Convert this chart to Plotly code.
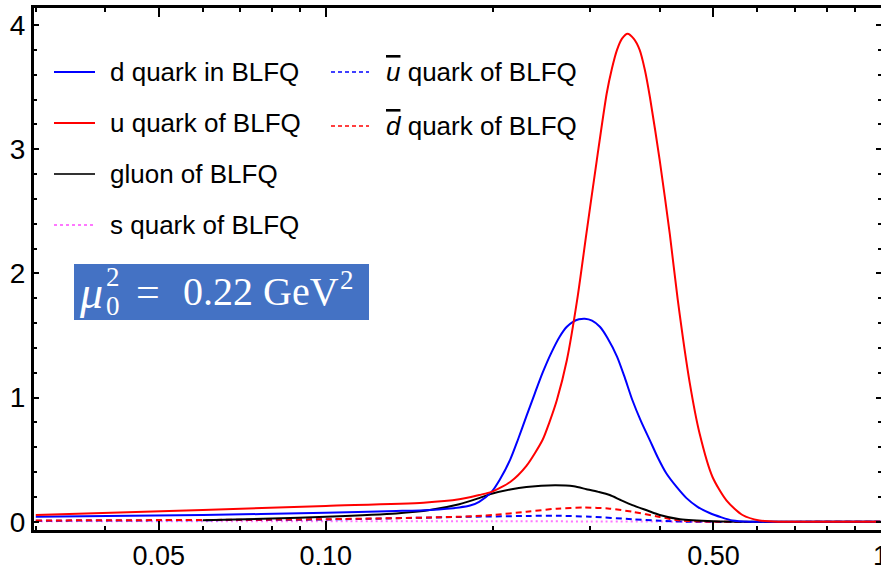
import plotly.graph_objects as go

# ---------------- data ----------------
u_x = [0.03, 0.06, 0.10, 0.15, 0.174, 0.189, 0.199, 0.215, 0.230, 0.246, 0.253, 0.261, 0.272,
       0.284, 0.295, 0.308, 0.321, 0.328, 0.335, 0.342, 0.350, 0.359, 0.368, 0.376, 0.384,
       0.400, 0.417, 0.431, 0.453, 0.472, 0.498, 0.528, 0.564, 0.605, 0.658, 0.80, 1.0]
u_y = [0.054, 0.094, 0.127, 0.153, 0.18, 0.215, 0.24, 0.32, 0.45, 0.66, 0.80, 0.98, 1.30,
       1.79, 2.32, 2.91, 3.45, 3.65, 3.80, 3.89, 3.93, 3.89, 3.80, 3.64, 3.42,
       2.91, 2.32, 1.79, 1.12, 0.71, 0.36, 0.17, 0.054, 0.01, 0.0, 0.0, 0.0]

d_x = [0.03, 0.06, 0.10, 0.134, 0.154, 0.174, 0.182, 0.189, 0.199, 0.206, 0.215, 0.222, 0.230,
       0.238, 0.246, 0.255, 0.264, 0.272, 0.279, 0.286, 0.293, 0.302, 0.312, 0.322, 0.335,
       0.346, 0.357, 0.370, 0.384, 0.397, 0.411, 0.429, 0.447, 0.468, 0.492, 0.517, 0.541,
       0.58, 0.70, 1.0]
d_y = [0.04, 0.054, 0.072, 0.086, 0.095, 0.115, 0.13, 0.16, 0.24, 0.34, 0.50, 0.66, 0.85,
       1.03, 1.20, 1.36, 1.49, 1.57, 1.61, 1.63, 1.635, 1.62, 1.57, 1.48, 1.33,
       1.16, 0.98, 0.81, 0.655, 0.515, 0.39, 0.28, 0.19, 0.12, 0.07, 0.035, 0.01,
       0.0, 0.0, 0.0]

g_x = [0.06, 0.08, 0.10, 0.134, 0.154, 0.174, 0.189, 0.199, 0.215, 0.230, 0.259, 0.28, 0.295,
       0.31, 0.325, 0.34, 0.357, 0.38, 0.40, 0.435, 0.50, 0.60, 1.0]
g_y = [0.012, 0.025, 0.04, 0.067, 0.094, 0.14, 0.19, 0.225, 0.26, 0.28, 0.293, 0.285, 0.262,
       0.24, 0.215, 0.175, 0.134, 0.09, 0.054, 0.02, 0.004, 0.0, 0.0]

s_x = [0.03, 0.10, 0.20, 0.30, 0.50, 1.0]
s_y = [0.003, 0.004, 0.004, 0.002, 0.0, 0.0]

ubar_x = [0.03, 0.10, 0.174, 0.23, 0.261, 0.30, 0.357, 0.40, 0.45, 1.0]
ubar_y = [0.008, 0.018, 0.038, 0.046, 0.048, 0.04, 0.02, 0.008, 0.0, 0.0]

dbar_x = [0.03, 0.10, 0.174, 0.20, 0.23, 0.261, 0.293, 0.325, 0.357, 0.40, 0.435, 0.50, 1.0]
dbar_y = [0.01, 0.02, 0.04, 0.054, 0.08, 0.105, 0.114, 0.105, 0.08, 0.038, 0.01, 0.0, 0.0]

x_tick_vals = [0.05, 0.1, 0.5, 1]
x_tick_text = ["0.05", "0.10", "0.50", "1"]
x_minor_vals = [0.03, 0.04, 0.06, 0.07, 0.08, 0.09, 0.2, 0.3, 0.4, 0.6, 0.7, 0.8, 0.9]
y_tick_vals = [0, 1, 2, 3, 4]

legend_col1 = ["d quark in BLFQ", "u quark of BLFQ", "gluon of BLFQ", "s quark of BLFQ"]
legend_col2 = ['<i><span style="text-decoration:overline">u</span></i> quark of BLFQ',
               '<i><span style="text-decoration:overline">d</span></i> quark of BLFQ']

# ---------------- layout geometry ----------------
W, H = 881, 570
ML, MR, MT, MB = 34, 0, 8, 40
PW, PH = W - ML - MR, H - MT - MB


def px(xp):
    return (xp - ML) / PW


def py(yp):
    return (H - MB - yp) / PH


BLUE, RED, BLACK, PINK = "#0000FF", "#FF0000", "#000000", "#FF77FF"
SANS = "Liberation Sans, Arial, sans-serif"
SERIF = "Liberation Serif, Times New Roman, serif"

fig = go.Figure()
series = [
    (d_x, d_y, BLUE, "solid"),
    (u_x, u_y, RED, "solid"),
    (g_x, g_y, BLACK, "solid"),
    (s_x, s_y, PINK, "2px,3px"),
    (ubar_x, ubar_y, BLUE, "6px,4px"),
    (dbar_x, dbar_y, RED, "6px,4px"),
]
order = [3, 4, 5, 2, 0, 1]
for i in order:
    xs, ys, col, dash = series[i]
    fig.add_trace(go.Scatter(x=xs, y=ys, mode="lines",
                             line=dict(color=col, width=2, dash=dash, shape="spline", smoothing=0.7),
                             showlegend=False, hoverinfo="skip"))

# ---------------- manual legend ----------------
shapes = []
annotations = []
col1_rows = [72, 123, 174, 225]
col1_styles = [(BLUE, "solid"), (RED, "solid"), ("#333333", "solid"), (PINK, "dot")]
for label, yy, (c, dsh) in zip(legend_col1, col1_rows, col1_styles):
    shapes.append(dict(type="line", xref="paper", yref="paper", x0=px(54), x1=px(95),
                       y0=py(yy), y1=py(yy), line=dict(color=c, width=2, dash=dsh)))
    annotations.append(dict(xref="paper", yref="paper", x=px(108), y=py(yy), xanchor="left",
                            yanchor="middle", text=label, showarrow=False,
                            font=dict(family=SANS, size=26, color="#000000")))
col2_rows = [72, 126]
col2_styles = [BLUE, RED]
for label, yy, c in zip(legend_col2, col2_rows, col2_styles):
    shapes.append(dict(type="line", xref="paper", yref="paper", x0=px(331), x1=px(369),
                       y0=py(yy), y1=py(yy), line=dict(color=c, width=1.5, dash="4px,3px")))
    annotations.append(dict(xref="paper", yref="paper", x=px(384), y=py(yy), xanchor="left",
                            yanchor="middle", text=label, showarrow=False,
                            font=dict(family=SANS, size=26, color="#000000")))

# ---------------- formula box ----------------
shapes.append(dict(type="rect", xref="paper", yref="paper", x0=px(74), x1=px(369),
                   y0=py(320), y1=py(264), fillcolor="#4472C4", line=dict(width=0), layer="above"))
WHITE = "#FFFFFF"
annotations += [
    dict(xref="paper", yref="paper", x=px(77), y=py(293), xanchor="left", yanchor="middle",
         text="<i>μ</i>", showarrow=False, font=dict(family=SERIF, size=46, color=WHITE)),
    dict(xref="paper", yref="paper", x=px(104), y=py(277), xanchor="left", yanchor="middle",
         text="2", showarrow=False, font=dict(family=SERIF, size=27, color=WHITE)),
    dict(xref="paper", yref="paper", x=px(104), y=py(306), xanchor="left", yanchor="middle",
         text="0", showarrow=False, font=dict(family=SERIF, size=27, color=WHITE)),
    dict(xref="paper", yref="paper", x=px(134), y=py(292), xanchor="left", yanchor="middle",
         text="=", showarrow=False, font=dict(family=SERIF, size=42, color=WHITE)),
    dict(xref="paper", yref="paper", x=px(181), y=py(292), xanchor="left", yanchor="middle",
         text="0.22 GeV", showarrow=False, font=dict(family=SERIF, size=40, color=WHITE)),
    dict(xref="paper", yref="paper", x=px(338), y=py(280), xanchor="left", yanchor="middle",
         text="2", showarrow=False, font=dict(family=SERIF, size=27, color=WHITE)),
]

fig.update_layout(
    width=W, height=H,
    margin=dict(l=ML, r=MR, t=MT, b=MB, pad=0),
    paper_bgcolor="white", plot_bgcolor="white",
    shapes=shapes, annotations=annotations,
    showlegend=False,
)
fig.update_xaxes(
    type="log", range=[-(881 - ML) / 555.0, 0.001],
    tickmode="array", tickvals=x_tick_vals, ticktext=x_tick_text,
    ticks="inside", ticklen=9, tickwidth=2, tickcolor="black",
    minor=dict(tickmode="array", tickvals=x_minor_vals, ticks="inside", ticklen=4,
               tickwidth=2, tickcolor="black", showgrid=False),
    showline=True, linecolor="black", linewidth=3, mirror="ticks",
    showgrid=False, zeroline=False, ticklabeloverflow="allow", automargin=False,
    tickfont=dict(family=SANS, size=27, color="black"),
)
fig.update_yaxes(
    range=[-(H - MB - 521.7) / 124.2, 4 + (25 - MT) / 124.2],
    tickmode="array", tickvals=y_tick_vals,
    ticks="inside", ticklen=5, tickwidth=2, tickcolor="black",
    minor=dict(dtick=0.2, tick0=0, ticks="inside", ticklen=3, tickwidth=2,
               tickcolor="black", showgrid=False),
    showline=True, linecolor="black", linewidth=3, mirror="ticks",
    showgrid=False, zeroline=False, automargin=False,
    tickfont=dict(family=SANS, size=28, color="black"),
)

fig.write_html("out.html")
